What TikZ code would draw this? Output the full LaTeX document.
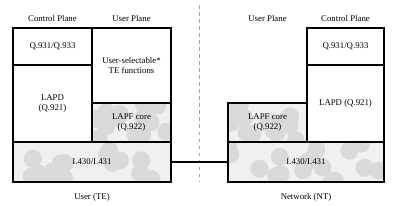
\documentclass[tikz,border=0pt]{standalone}
\usepackage{fontspec}
\setmainfont{Liberation Serif}
\usetikzlibrary{calc}

\begin{document}
\begin{tikzpicture}[
    x=0.03cm, y=-0.03cm,
    layer/.style={rectangle, draw=black, line width=0.9pt, fill=white, align=center, inner sep=1pt, font=\fontsize{7.5}{8.5}\selectfont},
    shaded/.style={layer, path picture={
        \fill[gray!12] (path picture bounding box.south west) rectangle (path picture bounding box.north east);
        \foreach \k in {1,...,16}{
            \pgfmathsetmacro\blobx{rnd}\pgfmathsetmacro\bloby{rnd}
            \fill[gray!30] ($(path picture bounding box.south west)!\blobx!(path picture bounding box.south east)$) ++(0pt,{\bloby*1.2cm}) circle (0.27cm);
        }
    }},
    plane/.style={font=\fontsize{7.5}{8.5}\selectfont},
    side/.style={font=\fontsize{7.5}{8.5}\selectfont},
    link/.style={line width=0.9pt},
    divider/.style={dashed, gray!70, line width=0.6pt}
]
\useasboundingbox (0,0) rectangle (400,206);
\pgfmathsetseed{11}

% plane headings
\node[plane] (cpL) at (52.5,18) {Control Plane};
\node[plane] (upL) at (131.5,18) {User Plane};
\node[plane] (upR) at (267.5,18) {User Plane};
\node[plane] (cpR) at (345.5,18) {Control Plane};

% user side (TE)
\node[layer, minimum width=2.37cm, minimum height=1.11cm] (qTE) at (52.5,46.5) {Q.931/Q.933};
\node[layer, minimum width=2.37cm, minimum height=2.31cm] (lapdTE) at (52.5,103.5) {LAPD\\(Q.921)};
\node[layer, minimum width=2.37cm, minimum height=2.25cm] (selTE) at (131.5,65.5) {User-selectable*\\TE functions};
\node[shaded, minimum width=2.37cm, minimum height=1.17cm] (lapfTE) at (131.5,122.5) {LAPF core\\(Q.922)};
\node[shaded, minimum width=4.74cm, minimum height=1.2cm] (barTE) at (92,162) {I.430/I.431};

% network side (NT)
\node[layer, minimum width=2.31cm, minimum height=1.11cm] (qNT) at (345.5,46.5) {Q.931/Q.933};
\node[layer, minimum width=2.31cm, minimum height=2.31cm] (lapdNT) at (345.5,103.5) {LAPD (Q.921)};
\node[shaded, minimum width=2.37cm, minimum height=1.17cm] (lapfNT) at (267.5,122.5) {LAPF core\\(Q.922)};
\node[shaded, minimum width=4.68cm, minimum height=1.2cm] (barNT) at (306,162) {I.430/I.431};

\node[side] (te) at (92,197) {User (TE)};
\node[side] (nt) at (306,197) {Network (NT)};

% boundary and physical link
\coordinate (divtop) at (199,5);
\coordinate (divbot) at (199,182);
\draw[divider] (divtop) -- (divbot);
\draw[link] (barTE.east) -- (barNT.west);

\end{tikzpicture}
\end{document}
